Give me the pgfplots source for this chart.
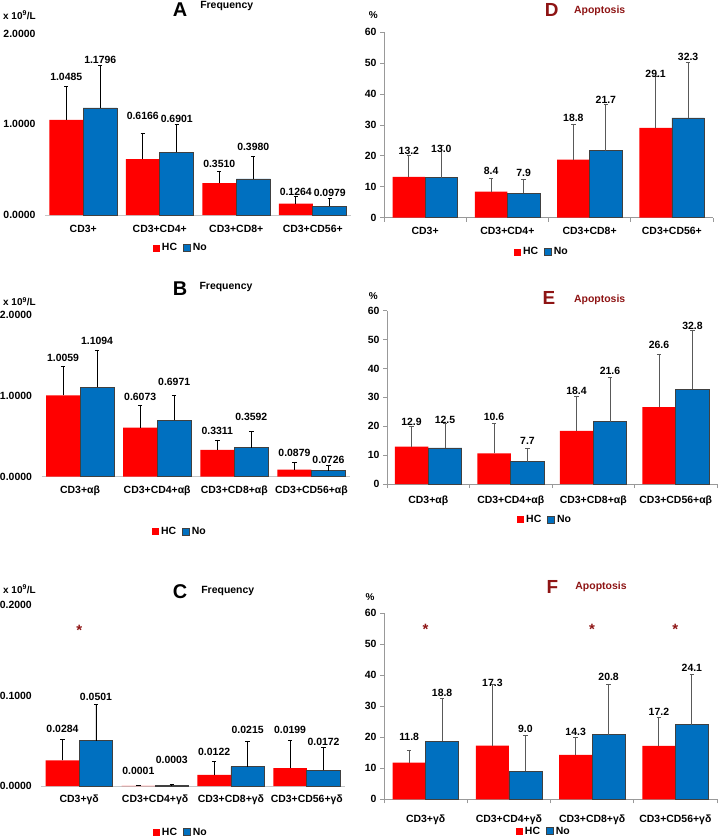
\documentclass[border=0pt]{standalone}
\usepackage{fontspec}
\setmainfont{Liberation Sans}
\usepackage{pgfplots}
\pgfplotsset{compat=1.18}
\usepackage{pgfplotstable}

\definecolor{hcred}{HTML}{FF0000}
\definecolor{noblue}{HTML}{0070C0}
\definecolor{dred}{HTML}{8E1414}
\newcommand\fs{\bfseries\fontsize{10.5}{12}\selectfont}

% x  hc  hc-error  hc-label-pos  no  no-error  no-label-pos
\pgfplotstableread{
x hc hce hcl no noe nol
0 1.0485 0.372 1.519 1.1796 0.467 1.712
1 0.6166 0.287 1.093 0.6901 0.312 1.056
2 0.3510 0.134 0.565 0.3980 0.247 0.747
3 0.1264 0.074 0.255 0.0979 0.084 0.248
}\tA
\pgfplotstableread{
x hc hce hcl no noe nol
0 1.0059 0.355 1.464 1.1094 0.458 1.678
1 0.6073 0.280 0.981 0.6971 0.313 1.175
2 0.3311 0.123 0.569 0.3592 0.198 0.734
3 0.0879 0.089 0.289 0.0726 0.063 0.206
}\tB
\pgfplotstableread{
x hc hce hcl no noe nol
0 0.0284 0.0232 0.0626 0.0501 0.0405 0.0980
1 0.0001 0.0000 0.0166 0.0003 0.0015 0.0287
2 0.0122 0.0147 0.0379 0.0215 0.0282 0.0619
3 0.0199 0.0309 0.0619 0.0172 0.0252 0.0490
}\tC
\pgfplotstableread{
x hc hce hcl no noe nol
0 13.2 7.1 21.6 13.0 10.5 22.4
1 8.4 4.3 15.1 7.9 4.5 14.6
2 18.8 11.5 32.4 21.7 15.0 38.3
3 29.1 16.5 46.7 32.3 18.0 52.1
}\tD
\pgfplotstableread{
x hc hce hcl no noe nol
0 12.9 7.2 21.6 12.5 8.5 22.1
1 10.6 10.2 23.3 7.7 4.5 15.0
2 18.4 11.8 32.3 21.6 15.3 39.2
3 26.6 18.3 48.1 32.8 20.5 54.7
}\tE
\pgfplotstableread{
x hc hce hcl no noe nol
0 11.8 4.1 20.2 18.8 13.8 34.4
1 17.3 19.6 37.4 9.0 11.5 22.6
2 14.3 5.6 21.8 20.8 16.4 39.4
3 17.2 9.3 28.1 24.1 16.1 42.3
}\tF

\pgfplotsset{
  base/.style={scale only axis, xmin=-0.5, xmax=3.5, ymin=0, xtick={0,1,2,3},
    /pgf/number format/assume math mode=true,
    tick label style={font=\fs}, axis x line*=bottom, axis y line*=left, clip=false,
    major x tick style={draw=none},
    legend style={draw=none, fill=none, legend columns=2, font=\fs, anchor=center,
      /tikz/every even column/.append style={column sep=4bp}},
    legend image code/.code={\fill[##1] (0bp,-3.5bp) rectangle (7bp,3.5bp);},
  },
  freq/.style={base, ymax=2, ytick={0,1,2}, yticklabels={0.0000,1.0000,2.0000},
    y axis line style={draw=none}, ytick style={draw=none},
    x axis line style={black!22, line width=0.9bp},
    yticklabel style={anchor=east, xshift=-6bp},
    xticklabel style={anchor=center, yshift=-14bp}},
  apo/.style={base, ymax=60, ytick={0,10,...,60},
    axis line style={black!40, line width=0.9bp}, tick align=outside,
    major tick length=4bp, minor tick length=4bp,
    ytick style={black!40, line width=0.9bp},
    minor xtick={-0.5,0.5,1.5,2.5,3.5},
    minor x tick style={black!40, line width=0.9bp},
    yticklabel style={anchor=east}},
}

% #1 table, #2 bar width, #3 x offset of each bar (data units), #4 bp per unit,
% #5 precision, #6 error colour
\newcommand\twobars[6]{%
  \addplot[ybar, bar width=#2bp, bar shift=0bp, fill=hcred, draw=none,
    nodes near coords={\pgfmathprintnumber[fixed,zerofill,precision=#5]{\pgfplotspointmeta}},
    nodes near coords align=center,
    visualization depends on={(\thisrow{hcl}-\thisrow{hc})*#4 \as \dy},
    nodes near coords style={font=\fs, text=black, yshift=\dy*1bp},
    error bars/.cd, y dir=plus, y explicit,
    error bar style={line width=0.9bp, #6},
    error mark options={rotate=90, mark size=2.2bp, line width=0.9bp, #6}]
    table[x expr=\thisrow{x}-#3, y=hc, y error=hce] {#1};
  \addplot[ybar, bar width=#2bp, bar shift=0bp, fill=noblue, draw=black!75, line width=0.7bp,
    nodes near coords={\pgfmathprintnumber[fixed,zerofill,precision=#5]{\pgfplotspointmeta}},
    nodes near coords align=center,
    visualization depends on={(\thisrow{nol}-\thisrow{no})*#4 \as \dy},
    nodes near coords style={font=\fs, text=black, yshift=\dy*1bp},
    error bars/.cd, y dir=plus, y explicit,
    error bar style={line width=0.9bp, #6},
    error mark options={rotate=90, mark size=2.2bp, line width=0.9bp, #6}]
    table[x expr=\thisrow{x}+#3, y=no, y error=noe] {#1};
  \legend{HC,No}
}

\begin{document}
\begin{tikzpicture}
\useasboundingbox (0bp,0bp) rectangle (718bp,-839bp);

% ---------- A ----------
\begin{axis}[freq, at={(45bp,-215bp)}, anchor=south west, width=306bp, height=181.5bp,
  xticklabels={CD3+,CD3+CD4+,CD3+CD8+,CD3+CD56+},
  legend style={at={(axis description cs:0.444,-0.182)}}]
\twobars{\tA}{34}{0.2222}{90.75}{4}{black}
\end{axis}

% ---------- B ----------
\begin{axis}[freq, at={(41.5bp,-476.7bp)}, anchor=south west, width=308.5bp, height=161.7bp,
  xticklabels={CD3+αβ,CD3+CD4+αβ,CD3+CD8+αβ,CD3+CD56+αβ},
  legend style={at={(axis description cs:0.449,-0.34)}}]
\twobars{\tB}{34}{0.2204}{80.85}{4}{black}
\end{axis}

% ---------- C ----------
\begin{axis}[freq, at={(41.3bp,-786bp)}, anchor=south west, width=303.4bp, height=181bp,
  ymax=0.2, ytick={0,0.1,0.2}, yticklabels={0.0000,0.1000,0.2000},
  xticklabels={CD3+γδ,CD3+CD4+γδ,CD3+CD8+γδ,CD3+CD56+γδ},
  legend style={at={(axis description cs:0.46,-0.256)}}]
\twobars{\tC}{33.5}{0.2208}{905}{4}{black}
\addplot[draw=none, forget plot, nodes near coords={*}, nodes near coords align=center,
  nodes near coords style={text=dred, font=\bfseries\fontsize{15}{15}\selectfont}]
  coordinates {(0,0.172)};
\end{axis}

% ---------- D ----------
\begin{axis}[apo, at={(384bp,-217.7bp)}, anchor=south west, width=329bp, height=185.4bp,
  xticklabel style={anchor=center, yshift=-9.5bp},
  xticklabels={CD3+,CD3+CD4+,CD3+CD8+,CD3+CD56+},
  legend style={at={(axis description cs:0.48,-0.185)}}]
\twobars{\tD}{32.5}{0.1976}{3.09}{1}{black!65}
\end{axis}

% ---------- E ----------
\begin{axis}[apo, at={(387bp,-484bp)}, anchor=south west, width=330bp, height=173.3bp,
  xticklabel style={anchor=center, yshift=-13bp},
  xticklabels={CD3+αβ,CD3+CD4+αβ,CD3+CD8+αβ,CD3+CD56+αβ},
  legend style={at={(axis description cs:0.479,-0.204)}}]
\twobars{\tE}{33.5}{0.203}{2.888}{1}{black!65}
\end{axis}

% ---------- F ----------
\begin{axis}[apo, at={(384bp,-799.3bp)}, anchor=south west, width=333bp, height=186bp,
  xticklabel style={anchor=center, yshift=-16.5bp},
  xticklabels={CD3+γδ,CD3+CD4+γδ,CD3+CD8+γδ,CD3+CD56+γδ},
  legend style={at={(axis description cs:0.48,-0.172)}}]
\twobars{\tF}{33}{0.198}{3.1}{1}{black!65}
\addplot[draw=none, forget plot, nodes near coords={*}, nodes near coords align=center,
  nodes near coords style={text=dred, font=\bfseries\fontsize{15}{15}\selectfont}]
  coordinates {(0,54.7) (2,54.7) (3,54.7)};
\end{axis}

% ---------- titles and units ----------
\node[font=\bfseries\fontsize{20}{20}\selectfont] at (180bp,-10bp) {A};
\node[font=\fs] at (226.7bp,-6bp) {Frequency};
\node[font=\bfseries\fontsize{20}{20}\selectfont] at (180bp,-288.3bp) {B};
\node[font=\fs] at (226bp,-287bp) {Frequency};
\node[font=\bfseries\fontsize{20}{20}\selectfont] at (180bp,-591.7bp) {C};
\node[font=\fs] at (227.8bp,-591bp) {Frequency};
\node[font=\bfseries\fontsize{19}{19}\selectfont, text=dred] at (551.7bp,-10.3bp) {D};
\node[font=\fs, text=dred] at (599.7bp,-10.5bp) {Apoptosis};
\node[font=\bfseries\fontsize{19}{19}\selectfont, text=dred] at (549bp,-298.3bp) {E};
\node[font=\fs, text=dred] at (599.7bp,-299.8bp) {Apoptosis};
\node[font=\bfseries\fontsize{19}{19}\selectfont, text=dred] at (552.5bp,-586.7bp) {F};
\node[font=\fs, text=dred] at (601bp,-587.2bp) {Apoptosis};

\node[font=\bfseries\fontsize{10}{12}\selectfont, anchor=west, inner sep=0pt] at (3bp,-15bp) {x 10\textsuperscript{9}/L};
\node[font=\bfseries\fontsize{10}{12}\selectfont, anchor=west, inner sep=0pt] at (3bp,-301.7bp) {x 10\textsuperscript{9}/L};
\node[font=\bfseries\fontsize{10}{12}\selectfont, anchor=west, inner sep=0pt] at (3bp,-589.3bp) {x 10\textsuperscript{9}/L};
\node[font=\bfseries\fontsize{10}{12}\selectfont] at (373.3bp,-15bp) {\%};
\node[font=\bfseries\fontsize{10}{12}\selectfont] at (373.3bp,-296bp) {\%};
\node[font=\bfseries\fontsize{10}{12}\selectfont] at (370bp,-596.7bp) {\%};
\end{tikzpicture}
\end{document}
